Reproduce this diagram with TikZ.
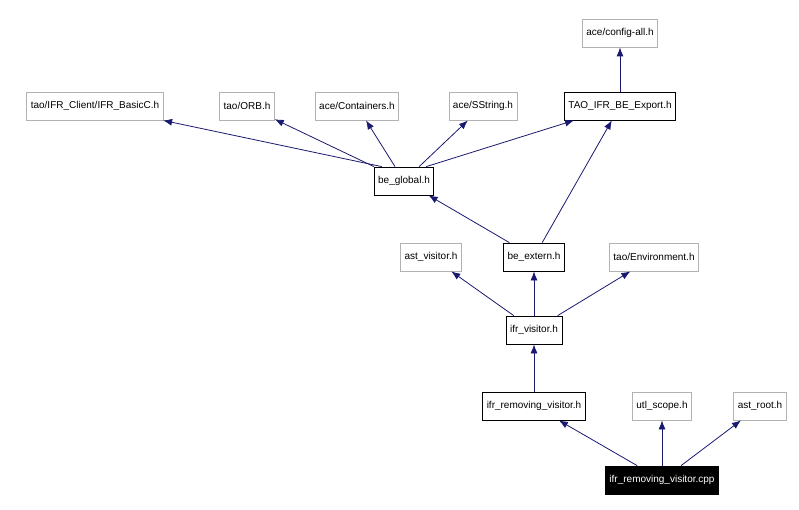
\documentclass[tikz,border=0pt]{standalone}
\usepackage{fontspec}
\setmainfont{Liberation Sans}
\usetikzlibrary{arrows.meta}
\definecolor{edge}{HTML}{191970}
\begin{document}
\begin{tikzpicture}[x=1pt,y=-1pt,
  base/.style={draw, rectangle, minimum height=28pt, inner xsep=4pt, font=\fontsize{10}{12}\selectfont, line width=0.8pt},
  gray/.style={base, draw=black!30},
  doc/.style={base, draw=black},
  cur/.style={base, draw=black, fill=black, text=white},
  e/.style={draw=edge, line width=0.8pt, -{Latex[length=9pt,width=7pt]}}]
\useasboundingbox (0,0) rectangle (799,510);
\node[gray] (cfg) at (620,33) {ace/config-all.h};
\node[gray] (ifrc) at (95,106) {tao/IFR\_Client/IFR\_BasicC.h};
\node[gray] (orb) at (247,106) {tao/ORB.h};
\node[gray] (cont) at (357,106) {ace/Containers.h};
\node[gray] (sstr) at (483,106) {ace/SString.h};
\node[doc] (exp) at (620,106) {TAO\_IFR\_BE\_Export.h};
\node[doc] (glob) at (404,181) {be\_global.h};
\node[gray] (astv) at (431,257) {ast\_visitor.h};
\node[doc] (ext) at (534,257) {be\_extern.h};
\node[gray] (env) at (654,257) {tao/Environment.h};
\node[doc] (ifrv) at (534,330) {ifr\_visitor.h};
\node[doc] (rem) at (534,406) {ifr\_removing\_visitor.h};
\node[gray] (utl) at (662,406) {utl\_scope.h};
\node[gray] (root) at (760,406) {ast\_root.h};
\node[cur] (cpp) at (662,480) {ifr\_removing\_visitor.cpp};
\draw[e] (exp) -- (cfg);
\draw[e] (glob.north west) ++(8,0) -- (ifrc);
\draw[e] (glob) -- (orb);
\draw[e] (glob) -- (cont);
\draw[e] (glob) -- (sstr);
\draw[e] (glob.north east) ++(-8,0) -- (exp);
\draw[e] (ext) -- (glob);
\draw[e] (ext) -- (exp);
\draw[e] (ifrv) -- (astv);
\draw[e] (ifrv) -- (ext);
\draw[e] (ifrv) -- (env);
\draw[e] (rem) -- (ifrv);
\draw[e] (cpp) -- (rem);
\draw[e] (cpp) -- (utl);
\draw[e] (cpp) -- (root);
\end{tikzpicture}
\end{document}
